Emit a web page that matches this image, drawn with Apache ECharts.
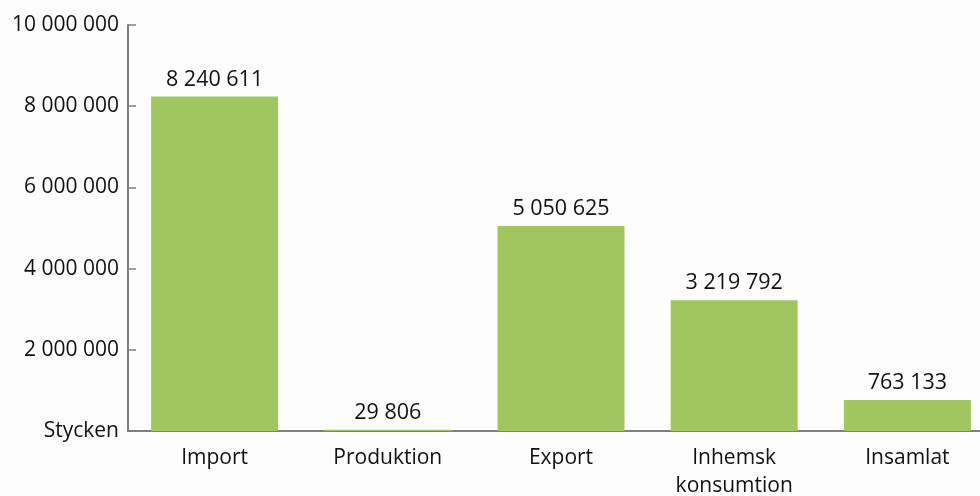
<!DOCTYPE html>
<html>
<head>
<meta charset="utf-8">
<script src="https://cdn.jsdelivr.net/npm/echarts@6/dist/echarts.min.js"></script>
<style>
  html, body { margin: 0; padding: 0; background: #fdfdfd; }
  #chart { width: 980px; height: 496px; }
</style>
</head>
<body>
<div id="chart"></div>
<script>
// kategorier och värden
var categories = ["Import", "Produktion", "Export", "Inhemsk\nkonsumtion", "Insamlat"];
var values = [8240611, 29806, 5050625, 3219792, 763133];
var yMax = 10000000;
var yStep = 2000000;
var zeroLabel = "Stycken";

function spaced(n) {
  return String(n).replace(/\B(?=(\d{3})+(?!\d))/g, " ");
}

var myChart = echarts.init(document.getElementById("chart"));
var font = "'Open Sans', sans-serif";

var option = {
  backgroundColor: "#fdfdfd",
  animation: false,
  grid: {
    left: 128,
    top: 25,
    width: 866,
    height: 406,
    containLabel: false,
    outerBoundsMode: "none"
  },
  xAxis: {
    type: "category",
    data: categories,
    axisTick: { show: false },
    axisLine: { show: true, lineStyle: { color: "#7f7f7f", width: 2 } },
    axisLabel: {
      color: "#111",
      fontSize: 21,
      fontFamily: font,
      margin: 13,
      lineHeight: 28
    }
  },
  yAxis: {
    type: "value",
    min: 0,
    max: yMax,
    interval: yStep,
    axisLine: { show: true, lineStyle: { color: "#7f7f7f", width: 2 } },
    axisTick: { show: true, inside: true, length: 8, lineStyle: { color: "#7f7f7f", width: 1.5 } },
    splitLine: { show: false },
    axisLabel: {
      color: "#111",
      fontSize: 21,
      fontFamily: font,
      margin: 9,
      padding: [4, 0, 0, 0],
      formatter: function (v) {
        return v === 0 ? zeroLabel : spaced(v);
      }
    }
  },
  series: [
    {
      type: "bar",
      data: values,
      barWidth: 127,
      itemStyle: { color: "#a0c75f" },
      label: {
        show: true,
        position: "top",
        distance: 6,
        color: "#111",
        fontSize: 21.5,
        fontFamily: font,
        formatter: function (p) {
          return spaced(p.value);
        }
      }
    }
  ]
};

myChart.setOption(option);
</script>
</body>
</html>
